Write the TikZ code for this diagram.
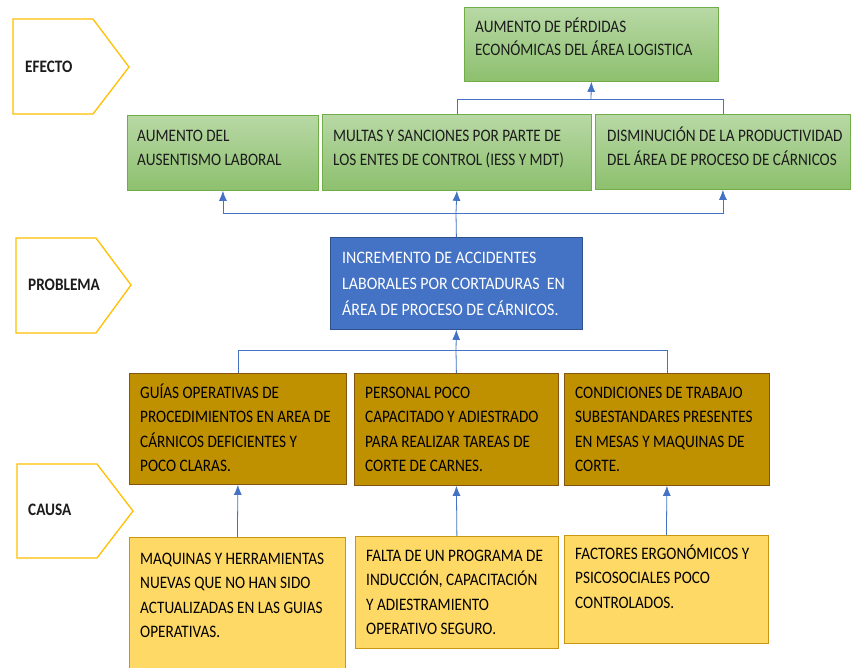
\documentclass[tikz,border=0pt]{standalone}
\usepackage{fontspec}
\setmainfont{Carlito}[FakeStretch=0.87]
\newfontfamily\probfont{Carlito}[FakeStretch=0.91]
\usetikzlibrary{arrows.meta}

\definecolor{effTop}{RGB}{184,216,165}
\definecolor{effBottom}{RGB}{141,192,110}
\definecolor{effLine}{RGB}{112,173,71}
\definecolor{probFill}{RGB}{68,114,196}
\definecolor{probLine}{RGB}{47,82,143}
\definecolor{causeFill}{RGB}{191,144,0}
\definecolor{causeLine}{RGB}{132,84,18}
\definecolor{rootFill}{RGB}{255,217,102}
\definecolor{rootLine}{RGB}{198,150,20}
\definecolor{tagLine}{RGB}{255,192,0}
\definecolor{linkBlue}{RGB}{68,114,196}
\definecolor{txtDark}{RGB}{28,28,28}

% text lines, baseline at the first line
\newcommand{\boxlines}[1]{\begin{tabular}[t]{@{}l@{}}#1\end{tabular}}

\begin{document}
\begin{tikzpicture}[x=1pt, y=-1pt,
  box/.style={draw, line width=0.8pt, inner sep=0pt, anchor=north west},
  effbox/.style={box, draw=effLine, top color=effTop, bottom color=effBottom},
  probbox/.style={box, draw=probLine, fill=probFill},
  causebox/.style={box, draw=causeLine, fill=causeFill},
  rootbox/.style={box, draw=rootLine, fill=rootFill},
  txt/.style={anchor=base west, inner sep=0pt, text=txtDark,
    font=\fontsize{17.5}{24.5}\selectfont},
  tagline/.style={draw=tagLine, fill=white, line width=1.3pt},
  tagtxt/.style={anchor=west, inner sep=0pt, text=txtDark,
    font=\fontsize{17.5}{21}\selectfont\bfseries},
  link/.style={draw=linkBlue, line width=0.8pt},
  arr/.style={link, -{Latex[length=10pt,width=8pt]}}]

  \fill[white] (0,0) rectangle (851,667);
  \useasboundingbox (0,0) rectangle (851,667);

  % Side tags
  \draw[tagline] (13,19) -- (93,19) -- (129,67) -- (93,114) -- (13,114) -- cycle;
  \node[tagtxt] (efecto) at (25,67) {EFECTO};
  \draw[tagline] (16,238) -- (96,238) -- (131,285) -- (96,333) -- (16,333) -- cycle;
  \node[tagtxt] (problema) at (28,285) {PROBLEMA};
  \draw[tagline] (17,464) -- (97,464) -- (133,511) -- (97,558) -- (17,558) -- cycle;
  \node[tagtxt] (causa) at (28,510) {CAUSA};

  % Top effect
  \node[effbox, minimum width=254, minimum height=74] (top) at (464,7) {};
  \node[txt, font=\fontsize{17.5}{23}\selectfont] (topt) at ([shift={(11,25)}]top.north west)
    {\boxlines{AUMENTO DE PÉRDIDAS\\ECONÓMICAS DEL ÁREA LOGISTICA}};

  % Effects
  \node[effbox, minimum width=191, minimum height=75] (e1) at (127,115) {};
  \node[effbox, minimum width=269, minimum height=76] (e2) at (322,114) {};
  \node[effbox, minimum width=255, minimum height=75] (e3) at (595,114) {};
  \node[txt] (e1t) at ([shift={(10,26)}]e1.north west) {\boxlines{AUMENTO DEL\\AUSENTISMO LABORAL}};
  \node[txt] (e2t) at ([shift={(11,27)}]e2.north west) {\boxlines{MULTAS Y SANCIONES POR PARTE DE\\LOS ENTES DE CONTROL (IESS Y MDT)}};
  \node[txt] (e3t) at ([shift={(12,27)}]e3.north west) {\boxlines{DISMINUCIÓN DE LA PRODUCTIVIDAD\\DEL ÁREA DE PROCESO DE CÁRNICOS}};

  % Problem
  \node[probbox, minimum width=252, minimum height=92] (prob) at (330,237) {};
  \node[txt, text=white, font=\fontsize{17.5}{26}\selectfont\probfont] (probt) at ([shift={(12,26)}]prob.north west)
    {\boxlines{INCREMENTO DE ACCIDENTES\\LABORALES POR CORTADURAS~ EN\\ÁREA DE PROCESO DE CÁRNICOS.}};

  % Causes
  \node[causebox, minimum width=217, minimum height=111] (c1) at (129,373) {};
  \node[causebox, minimum width=204, minimum height=112] (c2) at (354,373) {};
  \node[causebox, minimum width=205, minimum height=112] (c3) at (564,373) {};
  \node[txt, text=black] (c1t) at ([shift={(11,25)}]c1.north west)
    {\boxlines{GUÍAS OPERATIVAS DE\\PROCEDIMIENTOS EN AREA DE\\CÁRNICOS DEFICIENTES Y\\POCO CLARAS.}};
  \node[txt, text=black] (c2t) at ([shift={(11,25)}]c2.north west)
    {\boxlines{PERSONAL POCO\\CAPACITADO Y ADIESTRADO\\PARA REALIZAR TAREAS DE\\CORTE DE CARNES.}};
  \node[txt, text=black] (c3t) at ([shift={(11,25)}]c3.north west)
    {\boxlines{CONDICIONES DE TRABAJO\\SUBESTANDARES PRESENTES\\EN MESAS Y MAQUINAS DE\\CORTE.}};

  % Root causes
  \node[rootbox, minimum width=216, minimum height=132] (r1) at (129,537) {};
  \node[rootbox, minimum width=203, minimum height=112] (r2) at (355,536) {};
  \node[rootbox, minimum width=204, minimum height=108] (r3) at (564,535) {};
  \node[txt, text=black] (r1t) at ([shift={(11,27)}]r1.north west)
    {\boxlines{MAQUINAS Y HERRAMIENTAS\\NUEVAS QUE NO HAN SIDO\\ACTUALIZADAS EN LAS GUIAS\\OPERATIVAS.}};
  \node[txt, text=black] (r2t) at ([shift={(11,25)}]r2.north west)
    {\boxlines{FALTA DE UN PROGRAMA DE\\INDUCCIÓN, CAPACITACIÓN\\Y ADIESTRAMIENTO\\OPERATIVO SEGURO.}};
  \node[txt, text=black] (r3t) at ([shift={(11,24)}]r3.north west)
    {\boxlines{FACTORES ERGONÓMICOS Y\\PSICOSOCIALES POCO\\CONTROLADOS.}};

  % Connectors
  \coordinate (jtop) at (591,99);
  \coordinate (jeff) at (456,213);
  \coordinate (jcau) at (456,350);

  \draw[link] (e2.north) |- (jtop);
  \draw[link] (e3.north) |- (jtop);
  \draw[arr] (jtop) -- (top.south);

  \draw[link] (prob.north) -- (jeff);
  \draw[arr] (jeff) -| (e1.south);
  \draw[arr] (jeff) -- (e2.south);
  \draw[arr] (jeff) -| (e3.south);

  \draw[link] (c1.north) |- (jcau);
  \draw[link] (c2.north) -- (jcau);
  \draw[link] (c3.north) |- (jcau);
  \draw[arr] (jcau) -- (prob.south);

  \draw[arr] (r1.north) -- (c1.south);
  \draw[arr] (r2.north) -- (c2.south);
  \draw[arr] (r3.north) -- (c3.south);
\end{tikzpicture}
\end{document}
